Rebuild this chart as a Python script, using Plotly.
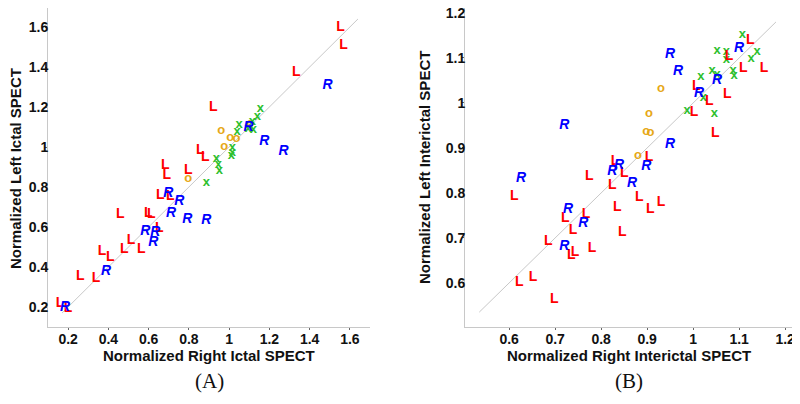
import plotly.graph_objects as go

# ---------------- Panel A: ictal ----------------
a_L_x = [1.553, 1.568, 1.334, 0.921, 0.857, 0.882, 0.683, 0.690, 0.797, 0.658, 0.707, 0.459,
         0.598, 0.613, 0.653, 0.513, 0.479, 0.563, 0.369, 0.409, 0.260, 0.339, 0.160, 0.200]
a_L_y = [1.600, 1.510, 1.375, 1.200, 0.985, 0.950, 0.910, 0.860, 0.885, 0.760, 0.755, 0.665,
         0.670, 0.665, 0.595, 0.535, 0.490, 0.490, 0.480, 0.450, 0.355, 0.345, 0.220, 0.195]
a_R_x = [1.489, 1.096, 1.175, 1.270, 0.698, 0.752, 0.712, 0.792, 0.887, 0.583, 0.633, 0.623, 0.389, 0.185]
a_R_y = [1.310, 1.100, 1.030, 0.980, 0.770, 0.730, 0.670, 0.640, 0.635, 0.580, 0.575, 0.525, 0.380, 0.200]
a_o_x = [0.961, 1.006, 1.036, 0.976, 0.797, 1.105]
a_o_y = [1.080, 1.045, 1.040, 1.000, 0.840, 1.115]
a_x_x = [1.155, 1.140, 1.115, 1.050, 1.040, 1.120, 1.016, 1.016, 1.011, 0.936, 0.946, 0.951, 0.887, 1.095]
a_x_y = [1.190, 1.150, 1.125, 1.110, 1.075, 1.085, 0.995, 0.970, 0.955, 0.940, 0.910, 0.880, 0.820, 1.090]
a_line = [0.17, 1.64]
a_ticks = [0.2, 0.4, 0.6, 0.8, 1.0, 1.2, 1.4, 1.6]
a_ticktext = ["0.2", "0.4", "0.6", "0.8", "1", "1.2", "1.4", "1.6"]
a_xrange = [0.1, 1.7]
a_yrange = [0.1, 1.695]

# ---------------- Panel B: interictal ----------------
b_L_x = [1.124, 1.078, 1.109, 1.154, 1.007, 1.035, 1.074, 1.002, 1.048, 0.904, 0.830, 0.850,
         0.774, 0.824, 0.611, 0.883, 0.930, 0.907, 0.835, 0.846, 0.722, 0.767, 0.739, 0.685,
         0.735, 0.743, 0.780, 0.652, 0.622, 0.698]
b_L_y = [1.138, 1.104, 1.076, 1.076, 1.036, 1.004, 1.018, 0.978, 0.933, 0.878, 0.869, 0.844,
         0.836, 0.816, 0.791, 0.789, 0.778, 0.764, 0.767, 0.713, 0.744, 0.751, 0.716, 0.691,
         0.660, 0.667, 0.676, 0.613, 0.600, 0.564]
b_R_x = [1.100, 1.052, 1.013, 0.950, 0.967, 0.720, 0.950, 0.898, 0.839, 0.824, 0.867, 0.626, 0.728, 0.761, 0.720]
b_R_y = [1.122, 1.049, 1.020, 1.107, 1.069, 0.949, 0.907, 0.858, 0.860, 0.847, 0.822, 0.831, 0.764, 0.731, 0.680]
b_o_x = [0.930, 0.904, 0.898, 0.907, 0.880]
b_o_y = [1.031, 0.976, 0.936, 0.933, 0.882]
b_x_x = [1.107, 1.052, 1.072, 1.072, 1.139, 1.126, 1.087, 1.089, 1.041, 1.052, 1.017, 1.022, 0.987, 1.046]
b_x_y = [1.151, 1.116, 1.113, 1.096, 1.113, 1.098, 1.071, 1.060, 1.071, 1.062, 1.058, 1.011, 0.982, 0.976]
b_line = [0.535, 1.18]
b_ticks = [0.6, 0.7, 0.8, 0.9, 1.0, 1.1, 1.2]
b_ticktext = ["0.6", "0.7", "0.8", "0.9", "1", "1.1", "1.2"]
b_xrange = [0.504, 1.217]
b_yrange = [0.502, 1.211]

RED = "#ff0000"
BLUE = "#0000ff"
GOLD = "#e6a817"
GREEN = "#2ec02e"
SANS = "Arial, Liberation Sans"
SERIF = "Times New Roman, Liberation Serif"

# the page body has an 8px margin, so the figure starts at (8, 8) on screen
OFF = 8
W, H = 800 - OFF, 404 - OFF


def fx(px):
    return min(1.0, max(0.0, (px - OFF) / W))


def fy(py):
    return min(1.0, max(0.0, 1 - (py - OFF) / H))


fig = go.Figure()


def add_panel(xa, ya, line, Lx, Ly, Rx, Ry, ox, oy, xx, xy):
    fig.add_trace(go.Scatter(x=line, y=line, mode="lines", xaxis=xa, yaxis=ya,
                             line=dict(color="#c8c8c8", width=1), hoverinfo="skip"))
    fig.add_trace(go.Scatter(x=ox, y=oy, mode="text", text=["o"] * len(ox), xaxis=xa, yaxis=ya,
                             textfont=dict(color=GOLD, size=13, family=SANS, weight="bold")))
    fig.add_trace(go.Scatter(x=xx, y=xy, mode="text", text=["x"] * len(xx), xaxis=xa, yaxis=ya,
                             textfont=dict(color=GREEN, size=13, family=SANS, weight="bold")))
    fig.add_trace(go.Scatter(x=Lx, y=Ly, mode="text", text=["L"] * len(Lx), xaxis=xa, yaxis=ya,
                             textfont=dict(color=RED, size=14, family=SANS, weight="bold")))
    fig.add_trace(go.Scatter(x=Rx, y=Ry, mode="text", text=["R"] * len(Rx), xaxis=xa, yaxis=ya,
                             textfont=dict(color=BLUE, size=14, family=SANS, weight="bold",
                                           style="italic")))


add_panel("x", "y", a_line, a_L_x, a_L_y, a_R_x, a_R_y, a_o_x, a_o_y, a_x_x, a_x_y)
add_panel("x2", "y2", b_line, b_L_x, b_L_y, b_R_x, b_R_y, b_o_x, b_o_y, b_x_x, b_x_y)

tickfont = dict(family=SANS, size=14, color="#111111", weight="bold")
axis_common = dict(showgrid=False, zeroline=False, showline=True, linecolor="#c8c8c8",
                   linewidth=1, ticks="outside", ticklen=2, tickcolor="#666666",
                   tickfont=tickfont, mirror=False, automargin=False,
                   ticklabeloverflow="allow")

fig.update_layout(
    width=W, height=H,
    margin=dict(l=0, r=0, t=0, b=0, autoexpand=False),
    paper_bgcolor="white", plot_bgcolor="white",
    showlegend=False,
    xaxis=dict(domain=[fx(48), fx(370)], range=a_xrange, tickvals=a_ticks, ticktext=a_ticktext,
               anchor="y", ticklabelstandoff=-3, **axis_common),
    yaxis=dict(domain=[fy(327), fy(8)], range=a_yrange, tickvals=a_ticks, ticktext=a_ticktext,
               anchor="x", ticklabelstandoff=-6, **axis_common),
    xaxis2=dict(domain=[fx(465), fx(793)], range=b_xrange, tickvals=b_ticks, ticktext=b_ticktext,
                anchor="y2", ticklabelstandoff=-3, **axis_common),
    yaxis2=dict(domain=[fy(327), fy(8)], range=b_yrange, tickvals=b_ticks, ticktext=b_ticktext,
                anchor="x2", ticklabelstandoff=-6, **axis_common),
)

titlefont = dict(family=SANS, size=15, color="#111111", weight="bold")


def ann(text, px, py, font, angle=0):
    fig.add_annotation(text=text, xref="paper", yref="paper", x=fx(px), y=fy(py),
                       xanchor="center", yanchor="middle", showarrow=False, font=font,
                       textangle=angle)


ann("Normalized Right Ictal SPECT", 209, 355, titlefont)
ann("Normalized Left Ictal SPECT", 15, 169, titlefont, -90)
ann("Normalized Right Interictal SPECT", 629, 355, titlefont)
ann("Normalized Left Interictal SPECT", 425, 168, titlefont, -90)
ann("(A)", 209, 381, dict(family=SERIF, size=21, color="#111111"))
ann("(B)", 629, 381, dict(family=SERIF, size=21, color="#111111"))

fig.write_html("out.html")
